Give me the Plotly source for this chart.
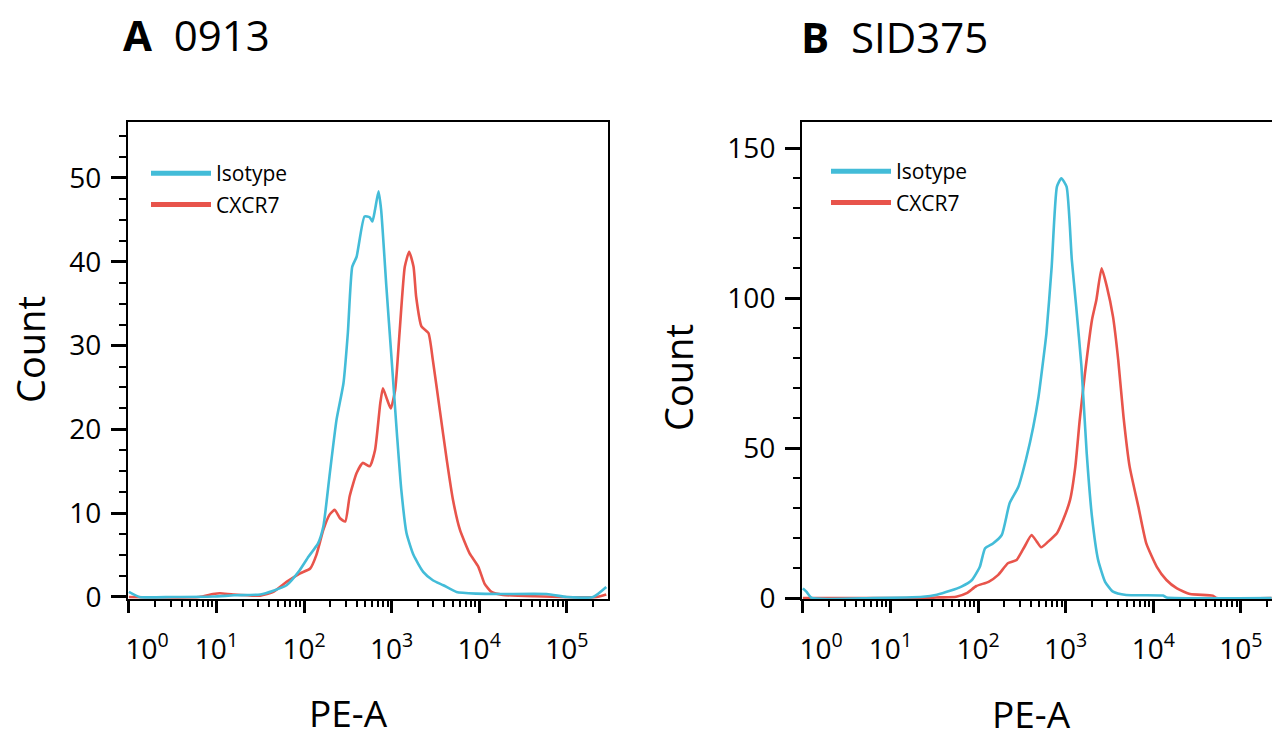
import numpy as np
import plotly.graph_objects as go

# ---------------- data (x as log10 of PE-A intensity, y = count) ----------------
iso_a_log10 = [0.0, 0.12, 0.5, 0.96, 1.2, 1.5, 1.65, 1.8, 1.95, 2.05, 2.16, 2.22, 2.29, 2.37, 2.45,
               2.5, 2.55, 2.6, 2.69, 2.75, 2.78, 2.81, 2.85, 2.88, 2.94, 3.0, 3.06, 3.11, 3.17,
               3.25, 3.36, 3.47, 3.59, 3.74, 3.97, 4.24, 4.77, 5.0, 5.3, 5.45]
iso_a_count = [0.6, 0.0, 0.0, 0.05, 0.2, 0.3, 0.75, 1.4, 3.2, 4.8, 6.4, 8.4, 14.4, 21.1, 25.5,
               31.5, 39.4, 40.6, 45.4, 45.3, 44.8, 46.2, 48.4, 46.2, 37.0, 28.3, 19.5, 12.8, 7.6,
               5.0, 3.0, 2.0, 1.4, 0.6, 0.4, 0.35, 0.35, 0.0, 0.0, 1.2]

cx_a_log10 = [0.0, 0.8, 0.96, 1.04, 1.19, 1.5, 1.65, 1.8, 1.95, 2.07, 2.14, 2.22, 2.29, 2.35, 2.41,
              2.47, 2.52, 2.6, 2.67, 2.75, 2.81, 2.87, 2.9, 2.95, 2.99, 3.04, 3.09, 3.15, 3.2,
              3.25, 3.28, 3.34, 3.42, 3.47, 3.55, 3.63, 3.7, 3.78, 3.89, 3.99, 4.06, 4.14,
              4.27, 4.62, 5.34, 5.45]
cx_a_count = [0.0, 0.0, 0.35, 0.45, 0.3, 0.15, 0.6, 1.8, 2.8, 3.4, 5.0, 8.0, 9.8, 10.4, 9.4,
              9.0, 12.0, 14.8, 16.0, 15.6, 17.5, 23.1, 24.9, 23.5, 22.5, 24.7, 31.5, 39.4, 41.2,
              39.4, 35.8, 32.3, 31.5, 28.3, 22.3, 16.3, 11.6, 8.0, 5.2, 3.6, 1.6, 0.6,
              0.25, 0.1, 0.0, 0.3]

iso_b_log10 = [0.0, 0.04, 0.1, 0.8, 1.37, 1.53, 1.68, 1.81, 1.93, 2.02, 2.08, 2.17, 2.27, 2.36,
               2.46, 2.55, 2.63, 2.69, 2.72, 2.78, 2.84, 2.9, 2.95, 3.01, 3.07, 3.12, 3.18, 3.24,
               3.3, 3.37, 3.45, 3.54, 3.69, 4.11, 4.15, 5.35]
iso_b_count = [3.2, 2.1, 0.0, 0.0, 0.4, 1.1, 2.4, 3.8, 6.0, 10.4, 16.6, 18.2, 21.0, 31.6,
               37.1, 46.6, 57.1, 67.1, 73.8, 88.2, 110.4, 137.1, 139.9, 137.1, 112.7, 97.1, 77.1, 48.2,
               27.1, 12.7, 5.4, 2.1, 1.0, 0.8, 0.2, 0.0]

cx_b_log10 = [0.0, 1.4, 1.56, 1.75, 1.87, 1.98, 2.12, 2.23, 2.34, 2.44, 2.53, 2.61, 2.67, 2.72,
              2.8, 2.9, 2.97, 3.05, 3.11, 3.16, 3.22, 3.3, 3.35, 3.41, 3.47, 3.54, 3.6, 3.66,
              3.73, 3.83, 3.92, 4.04, 4.15, 4.27, 4.42, 4.68, 4.72, 5.35]
cx_b_count = [0.0, 0.0, 0.2, 0.4, 1.6, 4.0, 5.4, 7.7, 11.6, 12.7, 17.1, 21.0, 18.8, 16.9,
              18.8, 21.6, 26.0, 32.7, 43.8, 59.3, 74.9, 92.7, 99.3, 109.9, 103.8, 93.8, 79.3, 60.4,
              43.8, 30.4, 18.2, 10.4, 6.0, 3.2, 1.3, 0.8, 0.0, 0.0]

x_tick_vals = [1, 10, 100, 1000, 10000, 100000]
x_tick_text = ["\u00a0\u00a0\u00a0\u00a0\u00a010<sup>0</sup>", "10<sup>1</sup>", "10<sup>2</sup>",
               "10<sup>3</sup>", "10<sup>4</sup>", "10<sup>5</sup>"]
y_ticks_a = [0, 10, 20, 30, 40, 50]
y_ticks_b = [0, 50, 100, 150]
series_names = ["Isotype", "CXCR7"]
panel_titles = ["<b>A</b>  0913", "<b>B</b>  SID375"]

CYAN = "#43BCD8"
RED = "#E8544B"
FONT = "Open Sans"
W, H = 1272, 738


def px_x(p):
    return p / W


def px_y(p):
    return 1 - p / H


fig = go.Figure()

panels = [
    (iso_a_log10, iso_a_count, cx_a_log10, cx_a_count, "x", "y", "legend"),
    (iso_b_log10, iso_b_count, cx_b_log10, cx_b_count, "x2", "y2", "legend2"),
]
for ix, iy, cxl, cy, xa, ya, lg in panels:
    fig.add_trace(go.Scatter(x=10 ** np.array(cxl), y=cy, mode="lines", xaxis=xa, yaxis=ya,
                             line=dict(color=RED, width=2.6, shape="spline", smoothing=0.5),
                             showlegend=False, name=series_names[1]))
    fig.add_trace(go.Scatter(x=10 ** np.array(ix), y=iy, mode="lines", xaxis=xa, yaxis=ya,
                             line=dict(color=CYAN, width=2.6, shape="spline", smoothing=0.5),
                             showlegend=False, name=series_names[0]))
    # legend entries (thicker sample lines, as in the figure)
    for nm, col in zip(series_names, [CYAN, RED]):
        fig.add_trace(go.Scatter(x=[None], y=[None], mode="lines", xaxis=xa, yaxis=ya,
                                 line=dict(color=col, width=5), name=nm, legend=lg,
                                 legendgroup=nm + lg, showlegend=True))

xcommon = dict(type="log", tickmode="array", tickvals=x_tick_vals, ticktext=x_tick_text,
               ticks="outside", ticklen=12, tickwidth=3, tickcolor="black", automargin=False,
               showline=True, linecolor="black", linewidth=2, showgrid=False, zeroline=False,
               tickfont=dict(family=FONT, size=28, color="black"), ticklabelstandoff=12,
               minor=dict(dtick="D1", ticks="outside", ticklen=6, tickwidth=1.6,
                          tickcolor="black", showgrid=False))
ycommon = dict(ticks="outside", ticklen=15, tickwidth=3, tickcolor="black", automargin=False,
               showline=True, linecolor="black", linewidth=2, showgrid=False, zeroline=False,
               tickfont=dict(family=FONT, size=28, color="black"), ticklabelstandoff=4)

fig.update_layout(
    width=W, height=H, margin=dict(l=0, r=0, t=0, b=0, autoexpand=False),
    paper_bgcolor="white", plot_bgcolor="white",
    font=dict(family=FONT, color="black"),
    xaxis=dict(domain=[px_x(128), px_x(608)], range=[-0.01, 5.47], mirror=True, anchor="y", **xcommon),
    yaxis=dict(domain=[px_y(599), px_y(122)], range=[-0.24, 56.68], anchor="x", mirror=True,
               tickmode="array", tickvals=y_ticks_a,
               minor=dict(dtick=2.5, ticks="outside", ticklen=7, tickwidth=1.6, tickcolor="black",
                          showgrid=False), **ycommon),
    xaxis2=dict(domain=[px_x(802), 1.0], range=[-0.01, 5.355], mirror=True, anchor="y2", **xcommon),
    yaxis2=dict(domain=[px_y(599), px_y(122)], range=[-0.33, 158.67], anchor="x2", mirror=False,
                tickmode="array", tickvals=y_ticks_b,
                minor=dict(dtick=10, ticks="outside", ticklen=7, tickwidth=1.6, tickcolor="black",
                           showgrid=False), **ycommon),
    legend=dict(x=px_x(146), y=px_y(153), xanchor="left", yanchor="top", bgcolor="rgba(0,0,0,0)",
                font=dict(family=FONT, size=21, color="black"), tracegroupgap=1, itemwidth=60,
                traceorder="grouped"),
    legend2=dict(x=px_x(826), y=px_y(151), xanchor="left", yanchor="top", bgcolor="rgba(0,0,0,0)",
                 font=dict(family=FONT, size=21, color="black"), tracegroupgap=1, itemwidth=60,
                 traceorder="grouped"),
)

annotations = [
    dict(text=panel_titles[0], x=px_x(121), y=px_y(34), xref="paper", yref="paper",
         xanchor="left", yanchor="middle", showarrow=False, font=dict(family=FONT, size=42)),
    dict(text=panel_titles[1], x=px_x(799), y=px_y(36), xref="paper", yref="paper",
         xanchor="left", yanchor="middle", showarrow=False, font=dict(family=FONT, size=42)),
    dict(text="Count", x=px_x(30), y=px_y(350), xref="paper", yref="paper", textangle=-90,
         xanchor="center", yanchor="middle", showarrow=False, font=dict(family=FONT, size=38)),
    dict(text="Count", x=px_x(678), y=px_y(378), xref="paper", yref="paper", textangle=-90,
         xanchor="center", yanchor="middle", showarrow=False, font=dict(family=FONT, size=38)),
    dict(text="PE-A", x=px_x(348), y=px_y(712), xref="paper", yref="paper",
         xanchor="center", yanchor="middle", showarrow=False, font=dict(family=FONT, size=37)),
    dict(text="PE-A", x=px_x(1031), y=px_y(713), xref="paper", yref="paper",
         xanchor="center", yanchor="middle", showarrow=False, font=dict(family=FONT, size=37)),
]
fig.update_layout(annotations=annotations)

fig.write_html("out.html", config={"displayModeBar": False},
               post_script="document.body.style.margin='0';document.body.style.overflow='hidden';")
